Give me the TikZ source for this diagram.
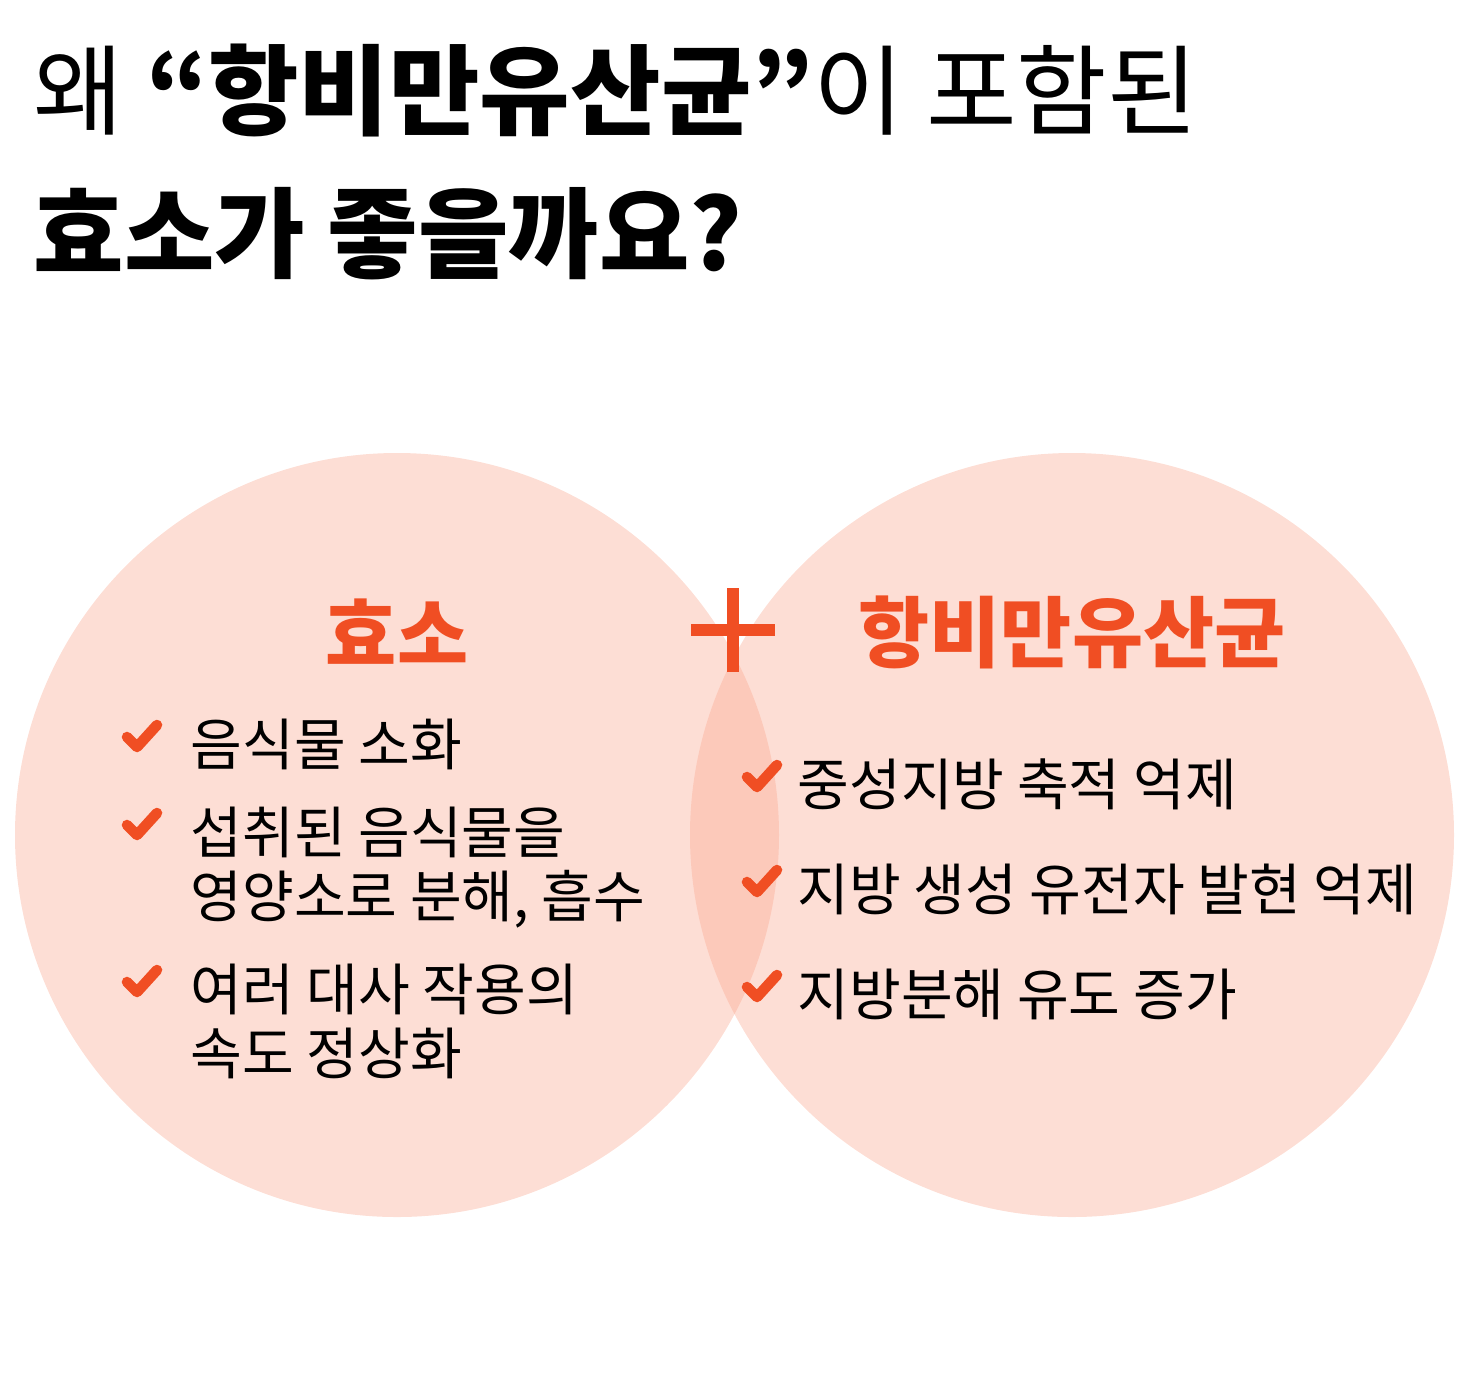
\documentclass[tikz,border=0pt]{standalone}
\usepackage{fontspec}
\setmainfont{Noto Sans CJK KR}
\usetikzlibrary{positioning,calc}
\definecolor{blob}{RGB}{250,165,140}
\definecolor{accent}{RGB}{240,78,35}
\tikzset{
  blobc/.style={circle, fill=blob, fill opacity=0.37, minimum size=7.64cm, inner sep=0pt},
  head/.style={font=\fontsize{22}{26}\selectfont\bfseries, text=accent},
  item/.style={anchor=base west, font=\fontsize{16}{20}\selectfont, inner sep=0pt},
  tick/.style={draw=accent, line width=3pt, line cap=round, line join=round}
}
\newcommand{\chk}[1]{\draw[tick] ($(#1)+(-0.18,0.08)$) -- ++(0.1,-0.1) -- ++(0.2,0.22);}
\begin{document}
\begin{tikzpicture}
\useasboundingbox (0,0) rectangle (14.66,-13.76);
% title
\node[anchor=base west, inner sep=0pt, font=\fontsize{28}{34}\selectfont] (t1) at (0.33,-1.27)
  {왜 \textbf{“항비만유산균”}이 포함된};
\node[anchor=base west, inner sep=0pt, font=\fontsize{28}{34}\selectfont\bfseries] (t2) at (0.33,-2.7)
  {효소가 좋을까요?};
% circles
\node[blobc] (left) at (3.97,-8.35) {};
\node[blobc] (right) at (10.72,-8.35) {};
% plus
\coordinate (plus) at (7.33,-6.3);
\draw[accent, line width=3.5pt] ($(plus)+(-0.42,0)$) -- ($(plus)+(0.42,0)$)
  ($(plus)+(0,-0.42)$) -- ($(plus)+(0,0.42)$);
% headings
\node[head] (h1) at (3.97,-6.32) {효소};
\node[head] (h2) at (10.72,-6.32) {항비만유산균};
% left items
\node[item] (a1) at (1.9,-7.65) {음식물 소화};
\node[item] (a2) at (1.9,-8.53) {섭취된 음식물을};
\node[item] (a2b) at (1.9,-9.17) {영양소로 분해, 흡수};
\node[item] (a3) at (1.9,-10.1) {여러 대사 작용의};
\node[item] (a3b) at (1.9,-10.74) {속도 정상화};
\foreach \n/\y in {1/-7.45,2/-8.33,3/-9.9}{\chk{1.45,\y}}
% right items
\node[item] (b1) at (7.97,-8.05) {중성지방 축적 억제};
\node[item] (b2) at (7.97,-9.1) {지방 생성 유전자 발현 억제};
\node[item] (b3) at (7.97,-10.15) {지방분해 유도 증가};
\foreach \n/\y in {1/-7.85,2/-8.9,3/-9.95}{\chk{7.65,\y}}
\end{tikzpicture}
\end{document}
